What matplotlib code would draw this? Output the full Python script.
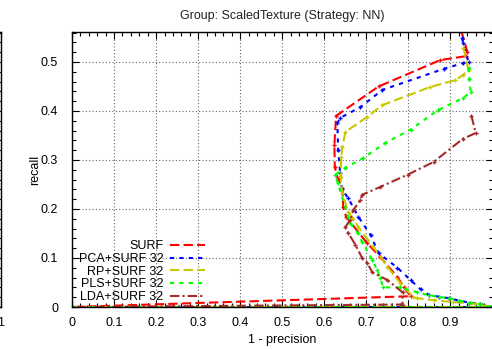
import matplotlib
matplotlib.use("Agg")
import matplotlib.pyplot as plt
from matplotlib.lines import Line2D
from matplotlib.ticker import MultipleLocator, FuncFormatter

plt.rcParams['font.family'] = ['Liberation Sans', 'DejaVu Sans']
plt.rcParams['font.size'] = 9

# 1 - precision (x) and recall (y) for each descriptor
surf_x = [0.926, 0.940, 0.938, 0.876, 0.729, 0.628, 0.624, 0.625, 0.632, 0.643, 0.645,
          0.652, 0.702, 0.733, 0.774, 0.790, 0.805, 0.000]
surf_y = [0.563, 0.521, 0.512, 0.504, 0.450, 0.390, 0.330, 0.285, 0.262, 0.243, 0.204,
          0.184, 0.130, 0.102, 0.061, 0.040, 0.022, 0.000]

pca_x = [0.928, 0.930, 0.943, 0.931, 0.884, 0.738, 0.686, 0.638, 0.631, 0.633, 0.638,
         0.642, 0.657, 0.681, 0.710, 0.729, 0.774, 0.805, 0.829, 0.848, 0.872, 0.896,
         0.921, 0.945, 0.970, 1.000, 0.000]
pca_y = [0.549, 0.539, 0.500, 0.498, 0.486, 0.443, 0.408, 0.386, 0.375, 0.320, 0.273,
         0.240, 0.222, 0.184, 0.147, 0.110, 0.080, 0.055, 0.036, 0.025, 0.021, 0.018,
         0.013, 0.009, 0.006, 0.000, 0.000]

rp_x = [0.931, 0.943, 0.929, 0.912, 0.852, 0.738, 0.702, 0.650, 0.643, 0.640, 0.639,
        0.643, 0.657, 0.669, 0.681, 0.717, 0.750, 0.781, 0.812, 0.821, 0.860, 0.907,
        0.948, 1.000, 0.000]
rp_y = [0.529, 0.484, 0.473, 0.463, 0.449, 0.412, 0.388, 0.357, 0.327, 0.306, 0.265,
        0.232, 0.194, 0.180, 0.163, 0.122, 0.082, 0.049, 0.020, 0.018, 0.014, 0.010,
        0.008, 0.000, 0.000]

pls_x = [0.943, 0.945, 0.948, 0.931, 0.871, 0.805, 0.745, 0.693, 0.650, 0.626, 0.632,
         0.657, 0.662, 0.679, 0.690, 0.714, 0.726, 0.733, 0.740, 0.780, 0.821, 0.848,
         0.872, 0.896, 0.921, 0.945, 0.970, 1.000, 0.000]
pls_y = [0.488, 0.465, 0.439, 0.427, 0.402, 0.362, 0.335, 0.304, 0.284, 0.270, 0.253,
         0.184, 0.171, 0.151, 0.133, 0.096, 0.075, 0.059, 0.040, 0.040, 0.030, 0.024,
         0.021, 0.018, 0.013, 0.009, 0.006, 0.000, 0.000]

lda_x = [0.950, 0.960, 0.929, 0.860, 0.798, 0.733, 0.690, 0.686, 0.669, 0.662, 0.650,
         0.657, 0.674, 0.690, 0.702, 0.714, 0.750, 0.786, 0.786, 0.000]
lda_y = [0.390, 0.355, 0.343, 0.296, 0.270, 0.245, 0.229, 0.218, 0.198, 0.178, 0.163,
         0.151, 0.127, 0.100, 0.090, 0.071, 0.055, 0.030, 0.005, 0.000]

labels = ["SURF", "PCA+SURF 32", "RP+SURF 32", "PLS+SURF 32", "LDA+SURF 32"]
colors = ["#ff0000", "#0000ff", "#c8c800", "#00ff00", "#a52a2a"]
dashes = [(4.5, 2.0), (2.0, 2.5), (4.5, 2.0), (2.0, 2.5), (4.5, 1.5, 1.0, 1.5)]
series = [(surf_x, surf_y), (pca_x, pca_y), (rp_x, rp_y), (pls_x, pls_y), (lda_x, lda_y)]

W, H = 492, 350
fig = plt.figure(figsize=(W / 100, H / 100), dpi=100)


def style_axes(a, last_xlabel=True):
    a.set_xlim(0, 1)
    a.set_ylim(0, 0.5612)
    a.xaxis.set_major_locator(MultipleLocator(0.1))
    a.xaxis.set_minor_locator(MultipleLocator(0.02))
    a.yaxis.set_major_locator(MultipleLocator(0.1))
    a.yaxis.set_minor_locator(MultipleLocator(0.02))
    a.tick_params(which='both', direction='in', top=True, right=True, colors='black',
                  width=0.8)
    a.tick_params(which='major', length=5)
    a.tick_params(which='minor', length=3)
    a.tick_params(axis='x', which='major', pad=7, labelsize=9)
    a.tick_params(axis='y', which='major', pad=10, labelsize=9)
    a.grid(True, which='major', color='0.4', linestyle=(0, (1, 2)), linewidth=0.8)
    for s in a.spines.values():
        s.set_linewidth(1.0)
        s.set_color('black')

    def xfmt(v, p):
        if not last_xlabel and v > 0.99:
            return ""
        return f"{v:g}"
    a.xaxis.set_major_formatter(FuncFormatter(xfmt))
    a.yaxis.set_major_formatter(FuncFormatter(lambda v, p: f"{v:g}"))


left, right, bottom, top = 72, 492.5, 307, 32
ax = fig.add_axes([left / W, (H - bottom) / H, (right - left) / W, (bottom - top) / H])
style_axes(ax, last_xlabel=False)

# neighbouring panel to the left
ax0 = fig.add_axes([(1.0 - 420) / W, (H - bottom) / H, 420 / W, (bottom - top) / H])
style_axes(ax0)
ax0.set_xticks([1.0])
ax0.set_yticklabels([])

for (xs, ys), c, d in zip(series, colors, dashes):
    ax.plot(xs, ys, color=c, lw=1.5, dashes=d, marker='+', ms=3.5, mew=1.0,
            solid_capstyle='butt', dash_capstyle='butt', clip_on=True)

handles = [Line2D([], [], color=c, lw=1.5, dashes=d) for c, d in zip(colors, dashes)]
leg = ax.legend(handles, labels, loc='lower right', bbox_to_anchor=(0.336, -0.018),
                frameon=False, markerfirst=False, handlelength=2.75, handletextpad=0.55,
                labelspacing=0.06, borderpad=0.2, fontsize=9)

ax.set_title("Group: ScaledTexture (Strategy: NN)", fontsize=9, color='#222222', pad=9)
ax.set_xlabel("1 - precision", fontsize=9, labelpad=4)
ax.set_ylabel("recall", fontsize=9, labelpad=0)

fig.savefig("out.png", dpi=100)
